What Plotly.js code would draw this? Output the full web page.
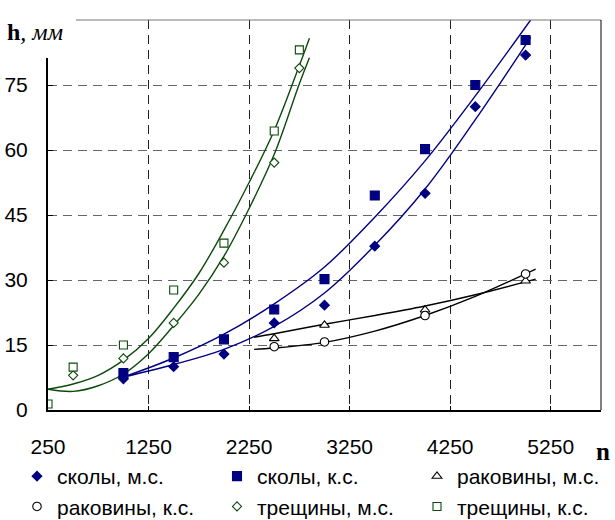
<!DOCTYPE html>
<html>
<head>
<meta charset="utf-8">
<script src="https://cdn.plot.ly/plotly-3.0.1.min.js"></script>
<style>html,body{margin:0;padding:0;background:#fff;}#chart{width:615px;height:520px;}</style>
</head>
<body>
<div id="chart"></div>
<script>
// ---- data ----
const xTicks = [250, 1250, 2250, 3250, 4250, 5250];
const yTicks = [0, 15, 30, 45, 60, 75];

const seriesNames = ["сколы, м.с.", "сколы, к.с.", "раковины, м.с.", "раковины, к.с.", "трещины, м.с.", "трещины, к.с."];

const nSkoly = [1000, 1500, 2000, 2500, 3000, 3500, 4000, 4500, 5000];
const skolyMS = [7.2, 10.0, 12.9, 20.1, 24.2, 37.8, 50.0, 70.0, 81.9];
const skolyKS = [8.5, 12.2, 16.3, 23.2, 30.2, 49.5, 60.2, 75.0, 85.4];

const nRak = [2500, 3000, 4000, 5000];
const rakMS = [16.5, 19.6, 23.1, 29.8];
const rakKS = [14.6, 15.7, 21.8, 31.4];

const nTrMS = [500, 1000, 1500, 2000, 2500, 2750];
const trMS = [8.0, 11.9, 20.1, 34.0, 57.1, 78.9];
const nTrKS = [250, 500, 1000, 1500, 2000, 2500, 2750];
const trKS = [1.4, 9.9, 15.0, 27.7, 38.5, 64.4, 83.1];

// trend lines
const nTrendSkoly = [1000, 1500, 2000, 2500, 3000, 3500, 4000, 4500, 5050];
const trendSkolyMS = [7.6, 10.5, 14.0, 19.3, 27.0, 38.0, 51.0, 67.0, 86.0];
const trendSkolyKS = [7.6, 12.0, 17.5, 24.5, 33.0, 44.5, 57.5, 72.5, 90.0];

const nTrendRak = [2300, 2500, 3000, 3500, 4000, 4500, 5100];
const trendRakMS = [16.8, 17.6, 19.8, 21.8, 24.0, 26.6, 30.2];
const trendRakKS = [14.0, 14.3, 15.6, 18.2, 21.8, 26.2, 32.5];

const nTrendTr = [250, 500, 750, 1000, 1250, 1500, 1750, 2000, 2250, 2500, 2750, 2850];
const trendTrMS = [4.8, 4.3, 5.6, 8.3, 13.0, 19.5, 26.7, 35.5, 46.5, 59.0, 75.3, 81.3];
const trendTrKS = [4.8, 6.0, 8.0, 11.5, 16.5, 23.5, 31.5, 41.5, 52.5, 64.5, 79.5, 85.8];

// ---- styles ----
const NAVY = "#000080", GREEN = "#0b4a0b", BLACK = "#000000";

function trend(x, y, color) {
  return {x: x, y: y, type: "scatter", mode: "lines", showlegend: false, hoverinfo: "skip",
          line: {color: color, width: 1.4, shape: "spline", smoothing: 1}};
}
function pts(x, y, name, symbol, size, fill, edge) {
  return {x: x, y: y, type: "scatter", mode: "markers", name: name,
          marker: {symbol: symbol, size: size, color: fill, line: {color: edge, width: 1.1}}};
}

const traces = [
  trend(nTrendTr, trendTrKS, GREEN),
  trend(nTrendTr, trendTrMS, GREEN),
  trend(nTrendSkoly, trendSkolyKS, NAVY),
  trend(nTrendSkoly, trendSkolyMS, NAVY),
  trend(nTrendRak, trendRakMS, BLACK),
  trend(nTrendRak, trendRakKS, BLACK),
  pts(nSkoly, skolyMS, seriesNames[0], "diamond", 7.5, NAVY, NAVY),
  pts(nSkoly, skolyKS, seriesNames[1], "square", 9, NAVY, NAVY),
  pts(nRak, rakMS, seriesNames[2], "triangle-up", 8.5, "#ffffff", BLACK),
  pts(nRak, rakKS, seriesNames[3], "circle", 8.5, "#ffffff", BLACK),
  pts(nTrMS, trMS, seriesNames[4], "diamond", 7, "#ffffff", GREEN),
  pts(nTrKS, trKS, seriesNames[5], "square", 8, "#ffffff", GREEN)
];

const W = 615, H = 520, ML = 48, MR = 14, MT = 20, MB = 110;
const PW = W - ML - MR, PH = H - MT - MB;
const px = v => (v - ML) / PW;     // pixel x -> paper
const py = v => (H - MB - v) / PH; // pixel y -> paper

const layout = {
  width: W, height: H,
  margin: {l: ML, r: MR, t: MT, b: MB, pad: 0, autoexpand: false},
  paper_bgcolor: "#ffffff", plot_bgcolor: "#ffffff",
  font: {family: "Liberation Sans, Arial, sans-serif", size: 21, color: "#000"},
  showlegend: true,
  xaxis: {
    range: [250, 5750], tickvals: xTicks, ticktext: xTicks.map(String),
    showgrid: true, gridcolor: "#222222", gridwidth: 1, griddash: "9px,6px",
    zeroline: false, showline: true, linecolor: "#000", linewidth: 2,
    ticks: "inside", ticklen: 4, tickcolor: "#000",
    ticklabelstandoff: 17, tickfont: {size: 21}
  },
  yaxis: {
    range: [0, 90], tickvals: yTicks, ticktext: yTicks.map(String),
    showgrid: true, gridcolor: "#666666", gridwidth: 1, griddash: "9px,6px",
    zeroline: false, showline: true, linecolor: "#000", linewidth: 2,
    ticks: "inside", ticklen: 5, tickcolor: "#000",
    ticklabelstandoff: 14, tickfont: {size: 21}
  },
  legend: {
    orientation: "h", x: px(17), xanchor: "left", y: py(456), yanchor: "top",
    entrywidth: 155, entrywidthmode: "pixels", traceorder: "normal",
    font: {size: 21}, bgcolor: "rgba(0,0,0,0)", borderwidth: 0, itemclick: false
  },
  shapes: [
    {type: "line", xref: "paper", yref: "paper", x0: 0, x1: 1, y0: 1, y1: 1,
     line: {color: "#777777", width: 1.2}, layer: "above"},
    {type: "line", xref: "paper", yref: "paper", x0: 1, x1: 1, y0: 0, y1: 1,
     line: {color: "#000000", width: 1}, layer: "above"},
    {type: "rect", xref: "paper", yref: "paper", x0: px(40), x1: px(76), y0: py(58), y1: py(15),
     fillcolor: "#ffffff", line: {width: 0}, layer: "above"}
  ],
  annotations: [
    {text: "<b>h</b><i>, мм</i>", xref: "paper", yref: "paper", x: px(5), y: py(32),
     xanchor: "left", yanchor: "middle", showarrow: false,
     font: {family: "Liberation Serif, Times New Roman, serif", size: 24, color: "#000"}},
    {text: "<b>n</b>", xref: "paper", yref: "paper", x: px(603), y: py(451),
     xanchor: "center", yanchor: "middle", showarrow: false,
     font: {family: "Liberation Serif, Times New Roman, serif", size: 25, color: "#000"}}
  ]
};

Plotly.newPlot("chart", traces, layout, {displayModeBar: false, staticPlot: true});
</script>
</body>
</html>
